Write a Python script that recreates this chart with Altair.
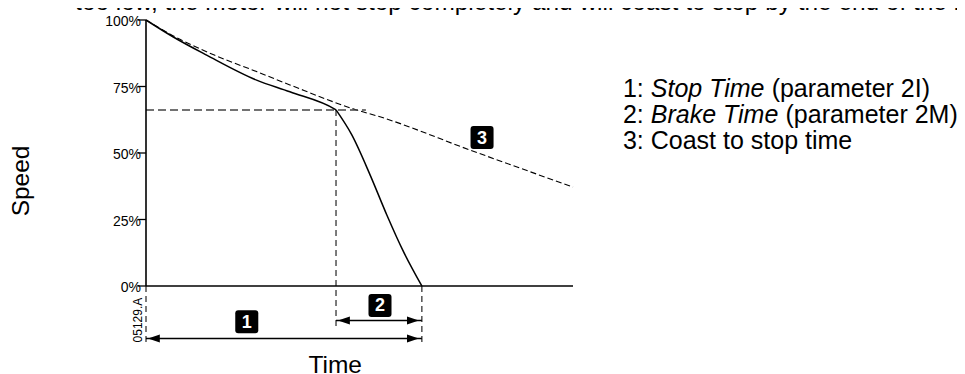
import altair as alt
import pandas as pd

# ---------------- data (time units arbitrary, speed in %) ----------------
coast_t = [0.0, 0.63, 1.6, 2.59, 3.37, 4.93, 5.48, 7.59, 10.0]
coast_speed = [100.0, 94.1, 86.8, 80.6, 75.6, 66.2, 63.6, 51.1, 37.2]

stop_t = [0.0, 0.63, 1.42, 2.59, 3.37, 4.43, 4.45]
stop_speed = [100.0, 93.7, 86.8, 77.4, 73.0, 66.4, 66.2]
brake_t = [4.45, 4.82, 5.25, 5.64, 6.03, 6.46]
brake_speed = [66.2, 56.8, 41.7, 26.7, 12.9, 0.0]

knee_speed = 66.2
knee_line_end_t = 5.15
axis_end_t = 10.0

guide_t = [0.0, 4.45, 6.46]
guide_top = [0.0, 66.2, 0.0]
guide_bottom = [-21.4, -15.8, -22.2]

y_ticks = [0, 25, 50, 75, 100]
y_tick_labels = ["0%", "25%", "50%", "75%", "100%"]

arrow_names = ["1", "2"]
arrow_start = [0.0, 4.45]
arrow_end = [6.46, 6.46]
arrow_speed = [-19.7, -13.0]

badge_text = ["1", "2", "3"]
badge_t = [2.36, 5.48, 7.87]
badge_speed = [-13.4, -7.3, 55.8]

legend_prefix = ["1: ", "2: ", "3: Coast to stop time"]
legend_italic = ["Stop Time", "Brake Time", ""]
legend_suffix = ["(parameter 2I)", "(parameter 2M)", ""]
legend_speed = [74.1, 64.3, 54.5]
legend_t = 11.17

top_text = "too low, the motor will not stop completely and will coast to stop by the end of the b"

# ---------------- layout ----------------
W, H = 949, 366
PX_T = 42.7       # px per time unit
PX_S = 2.66       # px per percent
X0_PX, Y0_PX = 138, 278  # svg position of (t=0, speed=0)
xdom = [-X0_PX / PX_T, (W - X0_PX) / PX_T]
ydom = [-(H - Y0_PX) / PX_S, Y0_PX / PX_S]
xs = alt.Scale(domain=xdom, nice=False, zero=False)
ys = alt.Scale(domain=ydom, nice=False, zero=False)
FONT = "Liberation Sans"
LEG_FS = 25

def X(field):
    return alt.X(field, type="quantitative", scale=xs, axis=None)

def Y(field):
    return alt.Y(field, type="quantitative", scale=ys, axis=None)

# arial advance widths (per 1000 em) for legend offsets
AW = {" ": 278, "(": 333, ")": 333, ":": 278, "1": 556, "2": 556, "3": 556,
      "S": 667, "t": 278, "o": 556, "p": 556, "T": 611, "i": 222, "m": 833,
      "e": 556, "B": 667, "r": 333, "a": 556, "k": 500}

def text_w(s):
    return sum(AW.get(c, 556) for c in s) / 1000 * LEG_FS / PX_T

coast_df = pd.DataFrame({"t": coast_t, "s": coast_speed})
stop_df = pd.DataFrame({
    "t": stop_t + brake_t,
    "s": stop_speed + brake_speed,
    "seg": ["stop"] * len(stop_t) + ["brake"] * len(brake_t),
})

coast = alt.Chart(coast_df).mark_line(
    color="black", strokeWidth=1.1, strokeDash=[6, 3], interpolate="monotone"
).encode(x=X("t"), y=Y("s"))
stop = alt.Chart(stop_df).mark_line(
    color="black", strokeWidth=1.5, interpolate="monotone"
).encode(x=X("t"), y=Y("s"), detail="seg:N")

knee_df = pd.DataFrame({"t": [0.0], "t2": [knee_line_end_t], "s": [knee_speed]})
knee = alt.Chart(knee_df).mark_rule(color="#444", strokeWidth=1.5, strokeDash=[8, 4]).encode(
    x=X("t"), x2="t2", y=Y("s"))

guide_df = pd.DataFrame({"t": guide_t, "s": guide_top, "s2": guide_bottom})
guides = alt.Chart(guide_df).mark_rule(color="#444", strokeWidth=1.4, strokeDash=[6, 4]).encode(
    x=X("t"), y=Y("s"), y2="s2")

axes_df = pd.DataFrame({"t": [0.0, 0.0], "t2": [0.0, axis_end_t], "s": [0.0, 0.0], "s2": [100.0, 0.0]})
axes = alt.Chart(axes_df).mark_rule(color="black", strokeWidth=1.6).encode(
    x=X("t"), x2="t2", y=Y("s"), y2="s2")

tick_df = pd.DataFrame({"v": y_ticks, "lab": y_tick_labels, "t": [0.0] * 5})
ticks = alt.Chart(tick_df).mark_rule(color="black", strokeWidth=1.3, xOffset=-8).encode(
    x=X("t"), x2="t", y=Y("v"))
tick_labels = alt.Chart(tick_df).mark_text(
    align="right", baseline="middle", dx=-5, dy=2, font=FONT, fontSize=14, color="black"
).encode(x=X("t"), y=Y("v"), text="lab")

arrow_df = pd.DataFrame({"name": arrow_names, "t": arrow_start, "t2": arrow_end, "s": arrow_speed})
shafts = alt.Chart(arrow_df).mark_rule(color="black", strokeWidth=1.5).encode(
    x=X("t"), x2="t2", y=Y("s"))
LEFT_HEAD = "M0,0L1,-0.34L1,0.34Z"
RIGHT_HEAD = "M0,0L-1,-0.34L-1,0.34Z"
heads_l = alt.Chart(arrow_df).mark_point(
    shape=LEFT_HEAD, filled=True, color="black", size=560, opacity=1, xOffset=2
).encode(x=X("t"), y=Y("s"))
heads_r = alt.Chart(arrow_df).mark_point(
    shape=RIGHT_HEAD, filled=True, color="black", size=560, opacity=1, xOffset=-3
).encode(x=X("t2"), y=Y("s"))

BADGE = ("M-1,-0.74Q-1,-1,-0.74,-1L0.74,-1Q1,-1,1,-0.74L1,0.74Q1,1,0.74,1"
         "L-0.74,1Q-1,1,-1,0.74Z")
badge_df = pd.DataFrame({"lab": badge_text, "t": badge_t, "s": badge_speed})
badges = alt.Chart(badge_df).mark_point(
    shape=BADGE, size=530, filled=True, color="black", opacity=1
).encode(x=X("t"), y=Y("s"))
badge_txt = alt.Chart(badge_df).mark_text(
    font=FONT, fontSize=18, fontWeight="bold", color="white", baseline="middle", dy=1
).encode(x=X("t"), y=Y("s"), text="lab")

leg_rows = []
for p, it, sf, sp in zip(legend_prefix, legend_italic, legend_suffix, legend_speed):
    x1 = legend_t + text_w(p)
    x2 = x1 + text_w(it + " ")
    leg_rows.append({"part": p, "t": legend_t, "s": sp, "style": "normal"})
    if it:
        leg_rows.append({"part": it, "t": x1, "s": sp, "style": "italic"})
    if sf:
        leg_rows.append({"part": sf, "t": x2, "s": sp, "style": "normal"})
leg_df = pd.DataFrame(leg_rows)
leg_normal = alt.Chart(leg_df).transform_filter(alt.datum.style == "normal").mark_text(
    align="left", baseline="middle", font=FONT, fontSize=LEG_FS, color="black"
).encode(x=X("t"), y=Y("s"), text="part")
leg_italic = alt.Chart(leg_df).transform_filter(alt.datum.style == "italic").mark_text(
    align="left", baseline="middle", font=FONT, fontSize=LEG_FS, fontStyle="italic", color="black"
).encode(x=X("t"), y=Y("s"), text="part")

speed_df = pd.DataFrame({"lab": ["Speed"], "t": [-2.90], "s": [39.5]})
speed_lab = alt.Chart(speed_df).mark_text(
    font=FONT, fontSize=24.5, angle=270, baseline="middle", color="black"
).encode(x=X("t"), y=Y("s"), text="lab")
time_df = pd.DataFrame({"lab": ["Time"], "t": [4.43], "s": [-32.6]})
time_lab = alt.Chart(time_df).mark_text(
    font=FONT, fontSize=24.5, baseline="alphabetic", color="black"
).encode(x=X("t"), y=Y("s"), text="lab")

code_df = pd.DataFrame({"lab": ["05129.A"], "t": [-0.19], "s": [-12.8]})
code_lab = alt.Chart(code_df).mark_text(
    font=FONT, fontSize=12, angle=270, baseline="middle", color="black"
).encode(x=X("t"), y=Y("s"), text="lab")

top_df = pd.DataFrame({"lab": [top_text], "t": [-1.66], "s": [103.8]})
top_lab = alt.Chart(top_df).mark_text(
    font=FONT, fontSize=24.4, align="left", baseline="alphabetic", color="black"
).encode(x=X("t"), y=Y("s"), text="lab")

chart = alt.layer(
    coast, knee, guides, stop, axes, ticks, tick_labels, shafts, heads_l, heads_r,
    badges, badge_txt, leg_normal, leg_italic, speed_lab, time_lab, code_lab, top_lab
).properties(
    width=W, height=H, autosize=alt.AutoSizeParams(type="none"), padding=0
).configure_view(stroke=None)

chart.save("out.html", embed_options={"renderer": "svg", "actions": False})
